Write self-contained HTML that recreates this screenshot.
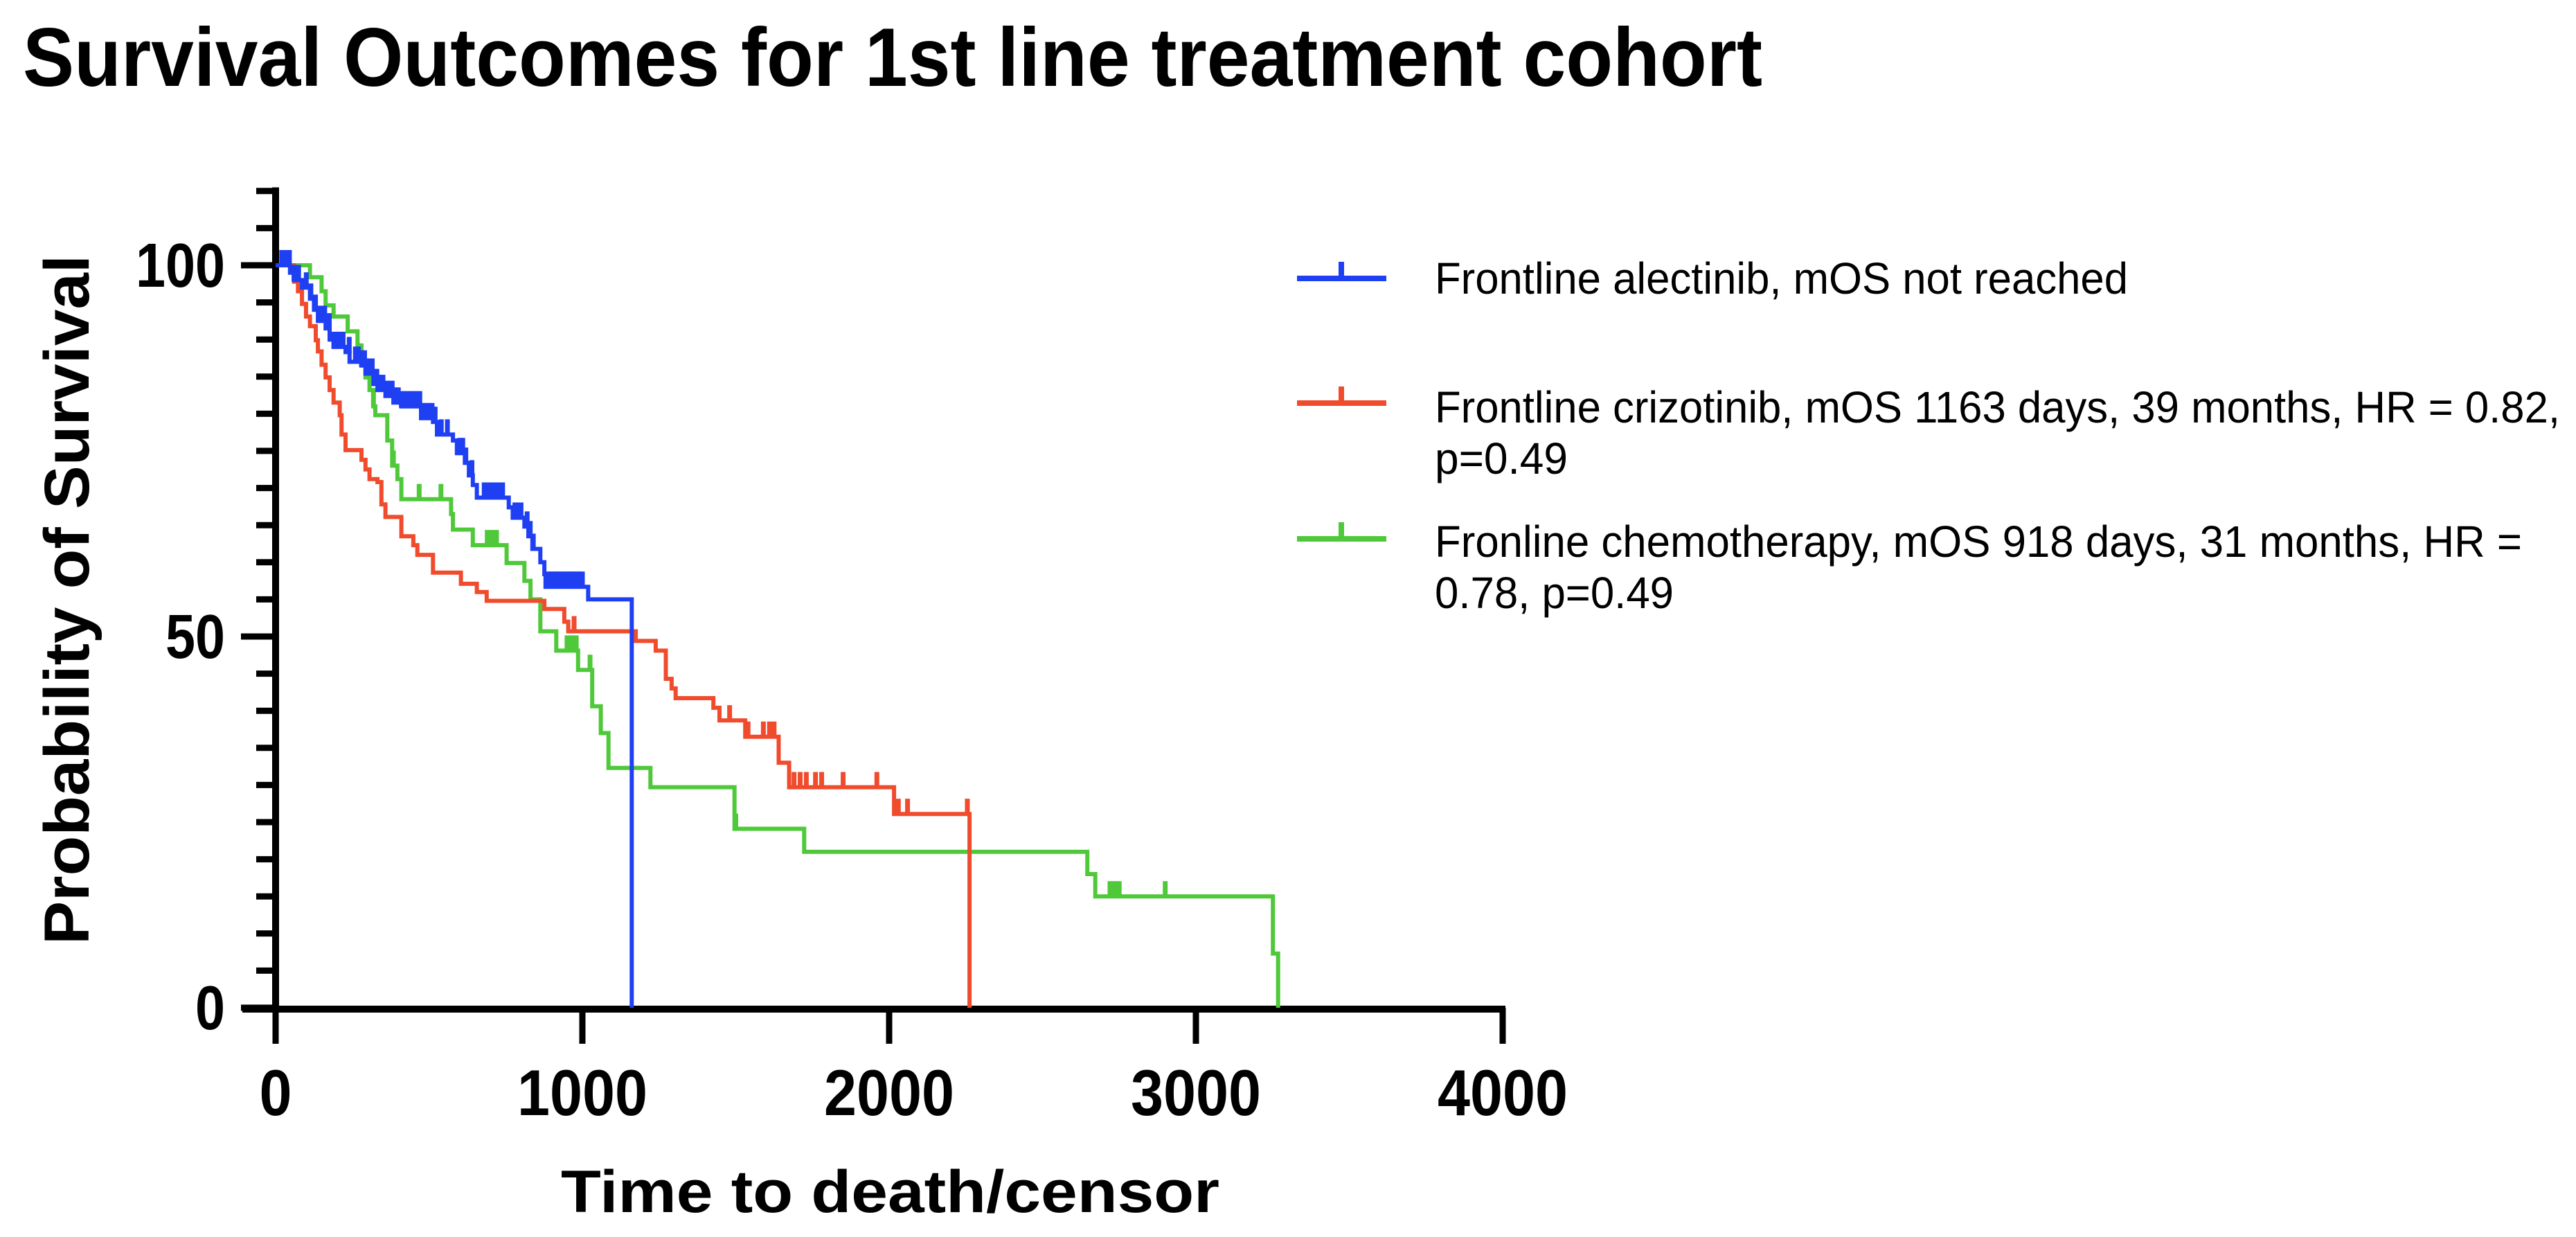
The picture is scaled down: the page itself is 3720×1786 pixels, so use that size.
<!DOCTYPE html>
<html><head><meta charset="utf-8"><style>
html,body{margin:0;padding:0;background:#fff;}
svg{display:block;}
text{font-family:"Liberation Sans",Arial,sans-serif;font-weight:bold;fill:#000;}
.leg{font-weight:normal;}
</style></head><body>
<svg id="chart" width="3720" height="1786" viewBox="0 0 3720 1786" xmlns="http://www.w3.org/2000/svg">
<text x="33" y="124" font-size="120" textLength="2512" lengthAdjust="spacingAndGlyphs">Survival Outcomes for 1st line treatment cohort</text>
<text transform="translate(128,866) rotate(-90)" text-anchor="middle" font-size="92" textLength="996" lengthAdjust="spacingAndGlyphs">Probability of Survival</text>
<text x="810" y="1750" font-size="86" textLength="951" lengthAdjust="spacingAndGlyphs">Time to death/censor</text>
<g id="axes"></g>
<g id="series"></g>
<g id="legend">
<text class="leg" x="2072" y="424" font-size="64" textLength="1001" lengthAdjust="spacingAndGlyphs">Frontline alectinib, mOS not reached</text>
<text class="leg" x="2072" y="610" font-size="64" textLength="1625" lengthAdjust="spacingAndGlyphs">Frontline crizotinib, mOS 1163 days, 39 months, HR = 0.82,</text>
<text class="leg" x="2072" y="684" font-size="64" textLength="192" lengthAdjust="spacingAndGlyphs">p=0.49</text>
<text class="leg" x="2072" y="804" font-size="64" textLength="1570" lengthAdjust="spacingAndGlyphs">Fronline chemotherapy, mOS 918 days, 31 months, HR =</text>
<text class="leg" x="2072" y="878" font-size="64" textLength="345" lengthAdjust="spacingAndGlyphs">0.78, p=0.49</text>
</g>
</svg>
<script>
const xTicks = [0, 1000, 2000, 3000, 4000];
const yTicks = [0, 50, 100];
const alecTimes = [0,47,60,86,112,125,138,163,176,189,228,241,280,293,319,332,358,384,410,474,513,526,578,591,617,630,643,656,760,773,811,824,837,863,876,880,1019,1161];
const alecSurv  = [100,99,98,97,95.5,94,92.5,91.5,90,89,88.3,87,86.5,85.4,84,83.2,82.4,81.5,81,79.4,78.9,77.2,76.4,74.7,73.4,71.7,70.4,68.7,67.4,66,64.8,63.5,61.8,60,58.4,56.7,55,0];
const alecCens  = [20,30,45,60,75,100,115,130,145,160,175,190,205,220,240,260,270,280,290,300,315,330,340,350,365,380,390,400,410,420,430,440,450,460,470,480,490,500,510,520,540,560,600,610,620,640,680,690,700,710,720,730,740,780,790,800,820,830,840,890,900,910,920,930,940,950,960,970,980,990,1000];
const crizTimes = [0,60,73,86,99,112,131,138,150,163,176,189,209,215,228,280,293,306,332,345,358,410,449,462,513,604,656,688,876,941,954,1174,1239,1272,1291,1304,1427,1447,1531,1640,1674,2016,2262];
const crizSurv  = [100,97.8,96.5,94.8,93.1,91.8,89.9,88.4,86.6,84.9,83.2,81.5,79.8,77.2,75.1,73.8,72.5,71.2,70.8,67.8,66.1,63.5,62.3,61,58.6,57.1,56,54.8,53.7,52,50.7,49.4,48.1,44.3,43,41.7,40.4,38.7,36.5,33,29.7,26.1,0];
const crizCens  = [973,1480,1540,1590,1610,1625,1690,1710,1730,1760,1780,1850,1960,2030,2060,2255];
const chemoTimes = [0,112,150,163,189,235,267,280,293,306,319,325,364,380,397,410,572,578,643,753,811,831,863,915,986,1032,1060,1085,1222,1496,1723,2646,2672,3251,3268];
const chemoSurv  = [100,98.4,96.5,94.6,93.1,91.1,89.2,87.1,84.9,83.2,81,79.8,76.4,73,71.2,68.5,66.5,64.4,62.3,59.9,57.5,55,50.7,48.1,45.5,40.6,37,32.3,29.7,24.1,21,18,15,7.3,0];
const chemoCens  = [319,384,468,539,690,705,720,950,965,980,1025,1500,2720,2735,2750,2900];

const NS = 'http://www.w3.org/2000/svg';
const X0 = 398, XPX = 0.443, Y0 = 1455, YPX = 10.72;
function xs(t){ return X0 + t * XPX; }
function ys(s){ return Y0 - s * YPX; }
function mk(tag, attrs, parent){
  const e = document.createElementNS(NS, tag);
  for (const k in attrs) e.setAttribute(k, attrs[k]);
  parent.appendChild(e);
  return e;
}
const axes = document.getElementById('axes');
const series = document.getElementById('series');

let yl = mk('line', {x1:X0, y1:ys(110.5), x2:X0, y2:Y0+5, stroke:'#000', 'stroke-width':10}, axes);


for (let v = 0; v <= 110; v += 5) {
  const major = yTicks.indexOf(v) >= 0;
  const tk = mk('line', {x1:X0 - (major ? 50 : 28), y1:ys(v), x2:X0, y2:ys(v), stroke:'#000', 'stroke-width':9}, axes);
  
  
}
yTicks.forEach(v => {
  const s = String(v);
  const t = mk('text', {x:325, y:ys(v) + 31, 'font-size':90, 'text-anchor':'end', textLength:43 * s.length, lengthAdjust:'spacingAndGlyphs'}, axes);
  t.textContent = s;
  
  
});
let xl = mk('line', {x1:350, y1:Y0 + 2, x2:xs(4000) + 4, y2:Y0 + 2, stroke:'#000', 'stroke-width':10}, axes);


xTicks.forEach(v => {
  const tk = mk('line', {x1:xs(v), y1:Y0, x2:xs(v), y2:1507, stroke:'#000', 'stroke-width':9}, axes);
  
  
  const s = String(v);
  const t = mk('text', {x:xs(v), y:1610, 'font-size':94, 'text-anchor':'middle', textLength:47 * s.length, lengthAdjust:'spacingAndGlyphs'}, axes);
  t.textContent = s;
  
  
});

function survAt(times, surv, t){
  let s = surv[0];
  for (let i = 0; i < times.length; i++) { if (times[i] <= t) s = surv[i]; }
  return s;
}
function drawSeries(times, surv, cens, color, name){
  let d = 'M' + xs(times[0]) + ' ' + ys(surv[0]);
  for (let i = 1; i < times.length; i++) {
    d += ' H' + xs(times[i]).toFixed(1) + ' V' + ys(surv[i]).toFixed(1);
  }
  const p = mk('path', {d:d, fill:'none', stroke:color, 'stroke-width':6}, series);
  
  
  cens.forEach(c => {
    const s = survAt(times, surv, c);
    const m = mk('line', {x1:xs(c), y1:ys(s) + 2, x2:xs(c), y2:ys(s) - 22, stroke:color, 'stroke-width':7}, series);
    
    
  });
}
drawSeries(chemoTimes, chemoSurv, chemoCens, '#4fc93a', 'chemotherapy');
drawSeries(crizTimes, crizSurv, crizCens, '#f04b2d', 'crizotinib');
drawSeries(alecTimes, alecSurv, alecCens, '#1f3ff2', 'alectinib');

const leg = document.getElementById('legend');
[[402, '#1f3ff2', 'alectinib'], [582, '#f04b2d', 'crizotinib'], [778, '#4fc93a', 'chemotherapy']].forEach(r => {
  const l = mk('path', {d:'M1873 ' + r[0] + ' H2002 M1937 ' + r[0] + ' V' + (r[0] - 24), stroke:r[1], 'stroke-width':8, fill:'none'}, leg);
  
  
});
</script>
</body></html>
